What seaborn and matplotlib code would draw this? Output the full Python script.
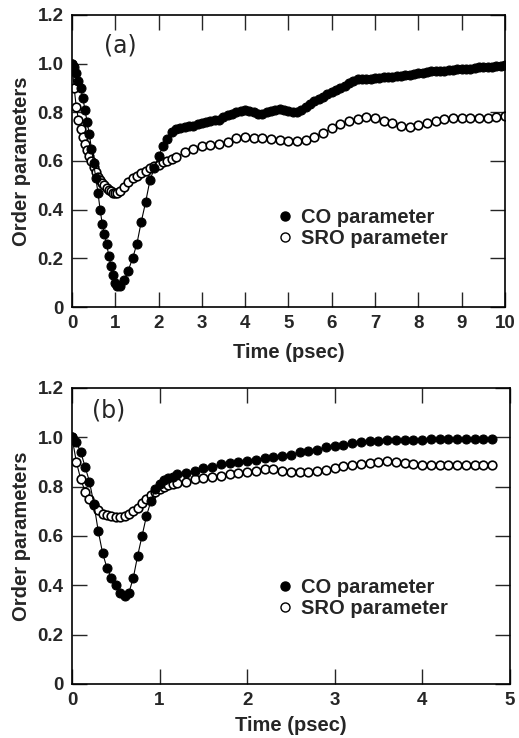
import numpy as np
import pandas as pd
import seaborn as sns
from matplotlib import pyplot as plt
from matplotlib.lines import Line2D

sns.set_style("ticks")
plt.rcParams["font.family"] = ["Liberation Sans", "DejaVu Sans"]

# panel (a) - CO parameter: 0.05 psec steps up to 1.1, then 0.1 psec steps
time_a_co = [0.0, 0.05, 0.1, 0.15, 0.2, 0.25, 0.3, 0.35, 0.4, 0.45, 0.5,
             0.55, 0.6, 0.65, 0.7, 0.75, 0.8, 0.85, 0.9, 0.95, 1.0, 1.05,
             1.1, 1.2, 1.3, 1.4, 1.5, 1.6, 1.7, 1.8, 1.9, 2.0, 2.1, 2.2,
             2.3, 2.4, 2.5, 2.6, 2.7, 2.8, 2.9, 3.0, 3.1, 3.2, 3.3, 3.4,
             3.5, 3.6, 3.7, 3.8, 3.9, 4.0, 4.1, 4.2, 4.3, 4.4, 4.5, 4.6,
             4.7, 4.8, 4.9, 5.0, 5.1, 5.2, 5.3, 5.4, 5.5, 5.6, 5.7, 5.8,
             5.9, 6.0, 6.1, 6.2, 6.3, 6.4, 6.5, 6.6, 6.7, 6.8, 6.9, 7.0,
             7.1, 7.2, 7.3, 7.4, 7.5, 7.6, 7.7, 7.8, 7.9, 8.0, 8.1, 8.2,
             8.3, 8.4, 8.5, 8.6, 8.7, 8.8, 8.9, 9.0, 9.1, 9.2, 9.3, 9.4,
             9.5, 9.6, 9.7, 9.8, 9.9, 10.0]
co_a = [1.00, 0.985, 0.96, 0.93, 0.90, 0.86, 0.81, 0.76, 0.71, 0.65, 0.59,
        0.53, 0.47, 0.40, 0.34, 0.30, 0.26, 0.21, 0.17, 0.13, 0.10, 0.085,
        0.085, 0.11, 0.15, 0.20, 0.26, 0.35, 0.43, 0.52, 0.57, 0.62, 0.66,
        0.69, 0.72, 0.73, 0.735, 0.74, 0.742, 0.745, 0.75, 0.755, 0.76,
        0.765, 0.768, 0.77, 0.78, 0.79, 0.795, 0.80, 0.805, 0.81, 0.805,
        0.80, 0.795, 0.795, 0.80, 0.805, 0.81, 0.815, 0.81, 0.805, 0.80,
        0.80, 0.81, 0.82, 0.835, 0.845, 0.855, 0.865, 0.875, 0.885, 0.893,
        0.90, 0.91, 0.92, 0.928, 0.935, 0.935, 0.935, 0.938, 0.94, 0.942,
        0.945, 0.945, 0.945, 0.948, 0.95, 0.952, 0.955, 0.958, 0.96, 0.962,
        0.965, 0.968, 0.97, 0.97, 0.97, 0.972, 0.975, 0.978, 0.98, 0.98,
        0.98, 0.982, 0.985, 0.985, 0.985, 0.988, 0.99, 0.992, 0.995]

# panel (a) - SRO parameter: denser at the start, 0.2 psec steps later
time_a_sro = [0.0, 0.05, 0.1, 0.15, 0.2, 0.25, 0.3, 0.35, 0.4, 0.45, 0.5,
              0.55, 0.6, 0.65, 0.7, 0.75, 0.8, 0.85, 0.9, 0.95, 1.0, 1.05,
              1.1, 1.2, 1.3, 1.4, 1.5, 1.6, 1.7, 1.8, 1.9, 2.0, 2.1, 2.2,
              2.3, 2.4, 2.6, 2.8, 3.0, 3.2, 3.4, 3.6, 3.8, 4.0, 4.2, 4.4,
              4.6, 4.8, 5.0, 5.2, 5.4, 5.6, 5.8, 6.0, 6.2, 6.4, 6.6, 6.8,
              7.0, 7.2, 7.4, 7.6, 7.8, 8.0, 8.2, 8.4, 8.6, 8.8, 9.0, 9.2,
              9.4, 9.6, 9.8, 10.0]
sro_a = [1.00, 0.90, 0.82, 0.77, 0.73, 0.70, 0.67, 0.645, 0.62, 0.60,
         0.575, 0.555, 0.535, 0.52, 0.51, 0.50, 0.49, 0.48, 0.475, 0.47,
         0.468, 0.47, 0.475, 0.495, 0.515, 0.53, 0.54, 0.55, 0.56, 0.57,
         0.578, 0.585, 0.595, 0.60, 0.61, 0.615, 0.635, 0.65, 0.66, 0.665,
         0.67, 0.68, 0.695, 0.70, 0.695, 0.693, 0.69, 0.688, 0.684, 0.683,
         0.686, 0.698, 0.715, 0.735, 0.75, 0.763, 0.772, 0.78, 0.775,
         0.765, 0.755, 0.745, 0.74, 0.748, 0.757, 0.765, 0.773, 0.775,
         0.775, 0.775, 0.776, 0.778, 0.782, 0.786]

# panel (b): 0.05 psec steps up to 1.2, then 0.1 psec steps
time_b = [0.0, 0.05, 0.1, 0.15, 0.2, 0.25, 0.3, 0.35, 0.4, 0.45, 0.5, 0.55,
          0.6, 0.65, 0.7, 0.75, 0.8, 0.85, 0.9, 0.95, 1.0, 1.05, 1.1, 1.15,
          1.2, 1.3, 1.4, 1.5, 1.6, 1.7, 1.8, 1.9, 2.0, 2.1, 2.2, 2.3, 2.4,
          2.5, 2.6, 2.7, 2.8, 2.9, 3.0, 3.1, 3.2, 3.3, 3.4, 3.5, 3.6, 3.7,
          3.8, 3.9, 4.0, 4.1, 4.2, 4.3, 4.4, 4.5, 4.6, 4.7, 4.8]
co_b = [1.00, 0.98, 0.94, 0.88, 0.82, 0.73, 0.62, 0.53, 0.47, 0.43, 0.40,
        0.37, 0.355, 0.37, 0.43, 0.52, 0.60, 0.68, 0.74, 0.79, 0.81, 0.825,
        0.835, 0.84, 0.85, 0.855, 0.865, 0.875, 0.88, 0.89, 0.895, 0.90,
        0.905, 0.91, 0.915, 0.92, 0.925, 0.93, 0.94, 0.945, 0.95, 0.96,
        0.965, 0.97, 0.975, 0.98, 0.985, 0.985, 0.99, 0.99, 0.99, 0.99,
        0.99, 0.995, 0.995, 0.995, 0.995, 0.995, 0.995, 0.995, 0.995]
sro_b = [1.00, 0.90, 0.83, 0.78, 0.75, 0.725, 0.705, 0.69, 0.685, 0.68,
         0.678, 0.675, 0.68, 0.69, 0.70, 0.715, 0.735, 0.75, 0.765, 0.78,
         0.79, 0.80, 0.805, 0.81, 0.815, 0.82, 0.83, 0.835, 0.84, 0.845,
         0.85, 0.855, 0.86, 0.865, 0.87, 0.87, 0.865, 0.86, 0.858, 0.858,
         0.862, 0.866, 0.875, 0.882, 0.888, 0.892, 0.896, 0.90, 0.902, 0.90,
         0.895, 0.89, 0.888, 0.887, 0.887, 0.887, 0.887, 0.887, 0.887,
         0.887, 0.887]

y_ticks = [0, 0.2, 0.4, 0.6, 0.8, 1.0, 1.2]
y_ticklabels = ["0", "0.2", "0.4", "0.6", "0.8", "1.0", "1.2"]

panels = [
    dict(label="(a)", t_co=time_a_co, co=co_a, t_sro=time_a_sro, sro=sro_a,
         xmax=10, rect=[0.1387, 0.584, 0.834, 0.3957], xpad=8,
         label_pos=(0.075, 0.935), legend_pos=(0.478, 0.272)),
    dict(label="(b)", t_co=time_b, co=co_b, t_sro=time_b, sro=sro_b,
         xmax=5, rect=[0.1387, 0.0732, 0.8435, 0.4011], xpad=5,
         label_pos=(0.045, 0.965), legend_pos=(0.473, 0.289)),
]

fig = plt.figure(figsize=(5.19, 7.38), dpi=100)

for p in panels:
    ax = fig.add_axes(p["rect"])
    sro_df = pd.DataFrame({"t": p["t_sro"], "v": p["sro"]})
    co_df = pd.DataFrame({"t": p["t_co"], "v": p["co"]})
    sns.lineplot(data=sro_df, x="t", y="v", ax=ax, color="black", lw=0.8,
                 marker="o", markersize=6.2, markerfacecolor="white",
                 markeredgecolor="black", markeredgewidth=1.2)
    sns.lineplot(data=co_df, x="t", y="v", ax=ax, color="black", lw=0.8,
                 marker="o", markersize=6.5, markerfacecolor="black",
                 markeredgecolor="black")
    xmax = p["xmax"]
    ax.set_xlim(0, xmax)
    ax.set_ylim(0, 1.2)
    ax.set_xticks(range(0, xmax + 1))
    ax.set_xticklabels([str(i) for i in range(0, xmax + 1)])
    ax.set_yticks(y_ticks)
    ax.set_yticklabels(y_ticklabels)
    ax.tick_params(direction="in", length=11, width=1.0, top=True,
                   right=True, labelsize=13.5, pad=6)
    for tl in ax.get_xticklabels() + ax.get_yticklabels():
        tl.set_fontweight("bold")
    for sp in ax.spines.values():
        sp.set_linewidth(1.2)
        sp.set_color("black")
    ax.set_xlabel("Time (psec)", fontsize=14.5, fontweight="bold",
                  labelpad=p["xpad"])
    ax.set_ylabel("Order parameters", fontsize=14.5, fontweight="bold",
                  labelpad=5)
    ax.text(p["label_pos"][0], p["label_pos"][1], p["label"],
            transform=ax.transAxes, fontsize=17, ha="left", va="top",
            family="DejaVu Sans")
    handles = [
        Line2D([], [], ls="none", marker="o", markersize=6.5,
               markerfacecolor="black", markeredgecolor="black"),
        Line2D([], [], ls="none", marker="o", markersize=6.5,
               markerfacecolor="white", markeredgecolor="black",
               markeredgewidth=1.0),
    ]
    ax.legend(handles, ["CO parameter", "SRO parameter"], loc="center left",
              bbox_to_anchor=p["legend_pos"], frameon=False, borderpad=0,
              borderaxespad=0, handlelength=0.6, handletextpad=0.5,
              labelspacing=0.1, prop={"weight": "bold", "size": 14.5})

fig.savefig("out.png", dpi=100)
